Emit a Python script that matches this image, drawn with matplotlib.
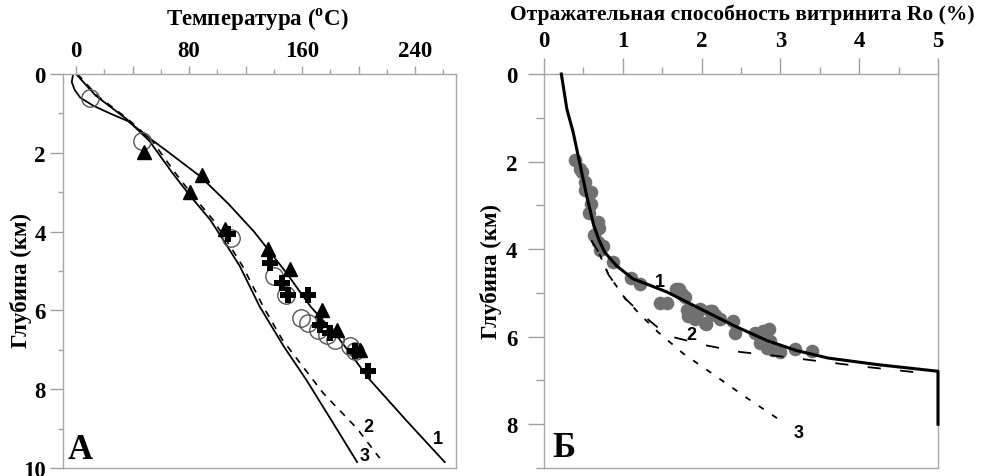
import matplotlib
matplotlib.use("Agg")
import matplotlib.pyplot as plt
from matplotlib.ticker import MultipleLocator, FixedLocator, FuncFormatter

# ---------------- data: panel A (temperature) ----------------
depth_curve1 = [0, 0.2, 0.4, 0.6, 0.8, 1.0, 1.2, 1.6, 2.0, 2.6, 3.3, 4.0, 4.5, 5.05, 5.9, 6.66, 7.76, 8.8, 9.85]
temp_curve1 = [-2, -3, -1, 3, 12, 24, 37, 51, 66, 88, 108, 126, 137, 149, 166, 185, 208, 234, 261]

depth_curve2 = [0, 0.55, 1.15, 1.7, 2.5, 3.1, 3.7, 4.28, 4.88, 5.9, 6.74, 7.68, 8.1, 9.0, 9.75]
temp_curve2 = [1, 15, 37, 54, 70, 83, 97, 107.5, 118, 132.5, 146, 166, 175, 199, 215]

depth_curve3 = [0, 0.55, 1.15, 1.7, 2.5, 3.1, 3.7, 4.28, 4.88, 5.9, 6.91, 7.76, 8.8, 9.85]
temp_curve3 = [0, 14, 36, 52, 68, 81, 95, 105.5, 116, 130, 147, 163, 181, 199]

circle_temp = [10, 47, 110, 140, 149, 159, 164.5, 171.5, 177.5, 183.5, 194, 197.5]
circle_depth = [0.61, 1.7, 4.16, 5.13, 5.6, 6.19, 6.32, 6.49, 6.62, 6.74, 6.91, 7.04]

tri_temp = [48, 89, 81, 105.5, 136, 151.5, 174, 184.6, 201]
tri_depth = [1.97, 2.57, 3.0, 3.94, 4.45, 4.96, 5.98, 6.49, 7.0]

plus_temp = [107.8, 137, 145.6, 150.3, 164.5, 172.7, 180, 197.5, 207]
plus_depth = [4.07, 4.79, 5.3, 5.6, 5.6, 6.36, 6.57, 7.04, 7.55]

temp_ticks = [0, 80, 160, 240]
depth_ticks_a = [0, 2, 4, 6, 8, 10]

# ---------------- data: panel B (vitrinite reflectance) ----------------
ro_curve1 = [0.22, 0.29, 0.37, 0.46, 0.54, 0.63, 0.7, 0.77, 0.92, 1.13, 1.35, 1.56, 1.98, 2.4,
             2.83, 3.21, 3.61, 4.24, 5.0, 5.0]
depth_ro1 = [0.0, 0.8, 1.33, 2.09, 2.77, 3.45, 3.8, 4.07, 4.38, 4.68, 4.83, 4.98, 5.36, 5.74,
             6.09, 6.32, 6.49, 6.64, 6.79, 8.0]

ro_curve2 = [0.6, 0.69, 0.82, 1.03, 1.25, 1.45, 1.66, 2.06, 2.49, 2.91, 3.4, 4.03, 4.75]
depth_ro2 = [3.8, 4.06, 4.59, 5.13, 5.5, 5.8, 6.02, 6.2, 6.35, 6.43, 6.54, 6.68, 6.82]

ro_curve3 = [0.6, 0.69, 0.82, 1.03, 1.25, 1.45, 1.77, 2.14, 2.55, 3.03]
depth_ro3 = [3.8, 4.06, 4.59, 5.13, 5.55, 5.9, 6.39, 6.85, 7.37, 7.95]

dots_ro = [0.39, 0.46, 0.48, 0.52, 0.52, 0.6, 0.6, 0.57, 0.69, 0.7, 0.63, 0.69, 0.75, 0.71,
           0.88, 1.11, 1.22, 1.47, 1.56, 1.71, 1.79, 1.81, 1.83, 1.94, 1.98, 1.92, 2.06,
           2.13, 2.17, 2.23, 2.4, 2.42, 2.68, 2.78, 2.85, 2.74, 2.83, 2.91, 2.99, 3.19,
           3.4, 2.87, 1.68, 1.75, 2.04, 2.11]
dots_depth = [1.97, 2.16, 2.24, 2.47, 2.66, 2.7, 2.96, 3.18, 3.38, 3.51, 3.68, 3.83, 3.94, 4.02,
              4.3, 4.66, 4.8, 5.24, 5.24, 4.92, 5.1, 5.38, 5.53, 5.46, 5.36, 5.6, 5.72,
              5.42, 5.5, 5.6, 5.64, 5.91, 5.91, 5.87, 5.83, 6.14, 6.26, 6.3, 6.34, 6.28,
              6.33, 6.1, 4.9, 5.02, 5.68, 5.42]

ro_ticks = [0, 1, 2, 3, 4, 5]
depth_ticks_b = [0, 2, 4, 6, 8]

# ---------------- style ----------------
plt.rcParams['font.family'] = ['Liberation Serif', 'DejaVu Serif']
plt.rcParams['font.weight'] = 'bold'
plt.rcParams['mathtext.fontset'] = 'custom'
plt.rcParams['mathtext.rm'] = 'Liberation Serif:bold'
plt.rcParams['mathtext.bf'] = 'Liberation Serif:bold'
plt.rcParams['lines.scale_dashes'] = False

W, H = 995, 477
fig = plt.figure(figsize=(W / 100, H / 100), dpi=100)

def fx(px):
    return px / W

def fy(py):
    return 1 - py / H

spine_col = '#a8a8a8'
tick_col = '#a0a0a0'

# ---------------- panel A ----------------
axA = fig.add_axes([fx(63), fy(469), fx(456) - fx(63), fy(75) - fy(469)])
axA.plot(temp_curve1, depth_curve1, color='black', lw=1.3)
axA.plot(temp_curve3, depth_curve3, color='black', lw=1.3)
axA.plot(temp_curve2, depth_curve2, color='black', lw=1.2, linestyle=(0, (5, 5)))
axA.plot(circle_temp, circle_depth, linestyle='none', marker='o', ms=12.5,
         mfc='none', mec='#555555', mew=1.0)
axA.plot(tri_temp, tri_depth, linestyle='none', marker='^', ms=10, color='black')
axA.plot(plus_temp, plus_depth, linestyle='none', marker='P', ms=12, color='black', mew=0)

axA.set_xlim(-9.2, 269)
axA.set_ylim(10, 0)
axA.xaxis.tick_top()
axA.xaxis.set_major_locator(FixedLocator([0, 40, 80, 120, 160, 200, 240]))
axA.xaxis.set_minor_locator(FixedLocator([20, 60, 100, 140, 180, 220, 260]))
axA.xaxis.set_major_formatter(FuncFormatter(lambda v, p: f"{int(v)}" if int(v) in temp_ticks else ""))
axA.yaxis.set_major_locator(FixedLocator(depth_ticks_a))
axA.yaxis.set_minor_locator(MultipleLocator(1))
axA.tick_params(axis='x', which='major', length=6, width=1, color=tick_col, pad=3.3, labelsize=16.5)
axA.tick_params(axis='x', which='minor', length=3.5, width=1, color=tick_col)
axA.tick_params(axis='y', which='major', length=9.5, width=1, color=tick_col, pad=3, labelsize=16.5)
axA.tick_params(axis='y', which='minor', length=3.8, width=1, color=tick_col)
for s in axA.spines.values():
    s.set_color(spine_col)
    s.set_linewidth(1)

lab_font = dict(family=['Liberation Sans', 'DejaVu Sans'], weight='bold', fontsize=13)
axA.text(256.3, 9.24, '1', ha='center', va='center', **lab_font)
axA.text(206.7, 8.95, '2', ha='center', va='center', **lab_font)
axA.text(204.6, 9.69, '3', ha='center', va='center', **lab_font)
axA.text(3.2, 9.54, 'А', ha='center', va='center', fontsize=25, weight='bold')

fig.text(fx(257), fy(20), r'Температура ($^{\mathbf{o}}$C)', ha='center', va='center', fontsize=16.5)
fig.text(fx(21), fy(280), 'Глубина (км)', ha='center', va='center', rotation=90, fontsize=16.5)

# ---------------- panel B ----------------
axB = fig.add_axes([fx(544), fy(469), fx(938) - fx(544), fy(75) - fy(469)])
axB.plot(dots_ro, dots_depth, linestyle='none', marker='o', ms=9.8, color='#707070', mew=0, zorder=2)
axB.plot(ro_curve2, depth_ro2, color='black', lw=1.3, linestyle=(0, (9.5, 14)), zorder=3)
axB.plot(ro_curve3, depth_ro3, color='black', lw=1.3, linestyle=(0, (4.3, 7.2)), zorder=3)
axB.plot(ro_curve1, depth_ro1, color='black', lw=2.2, zorder=4, clip_on=False)

axB.set_xlim(0, 5)
axB.set_ylim(9, 0)
axB.xaxis.tick_top()
axB.xaxis.set_major_locator(FixedLocator(ro_ticks))
axB.xaxis.set_minor_locator(MultipleLocator(0.5))
axB.yaxis.set_major_locator(FixedLocator(depth_ticks_b))
axB.yaxis.set_minor_locator(MultipleLocator(1))
axB.tick_params(axis='x', which='major', length=11.5, width=1, color=tick_col, pad=5.3, labelsize=16.5)
axB.tick_params(axis='x', which='minor', length=5, width=1, color=tick_col)
axB.tick_params(axis='y', which='major', length=11.5, width=1, color=tick_col, pad=7.5, labelsize=16.5)
axB.tick_params(axis='y', which='minor', length=5.5, width=1, color=tick_col)
for s in axB.spines.values():
    s.set_color(spine_col)
    s.set_linewidth(1)

axB.text(1.47, 4.74, '1', ha='center', va='center', **lab_font)
axB.text(1.87, 5.96, '2', ha='center', va='center', **lab_font)
axB.text(3.23, 8.18, '3', ha='center', va='center', **lab_font)
axB.text(0.25, 8.53, 'Б', ha='center', va='center', fontsize=25, weight='bold')

fig.text(fx(742), fy(15), 'Отражательная способность витринита Ro (%)', ha='center', va='center', fontsize=15.5)
fig.text(fx(491), fy(272), 'Глубина (км)', ha='center', va='center', rotation=90, fontsize=16.5)

fig.savefig('out.png', dpi=100)
